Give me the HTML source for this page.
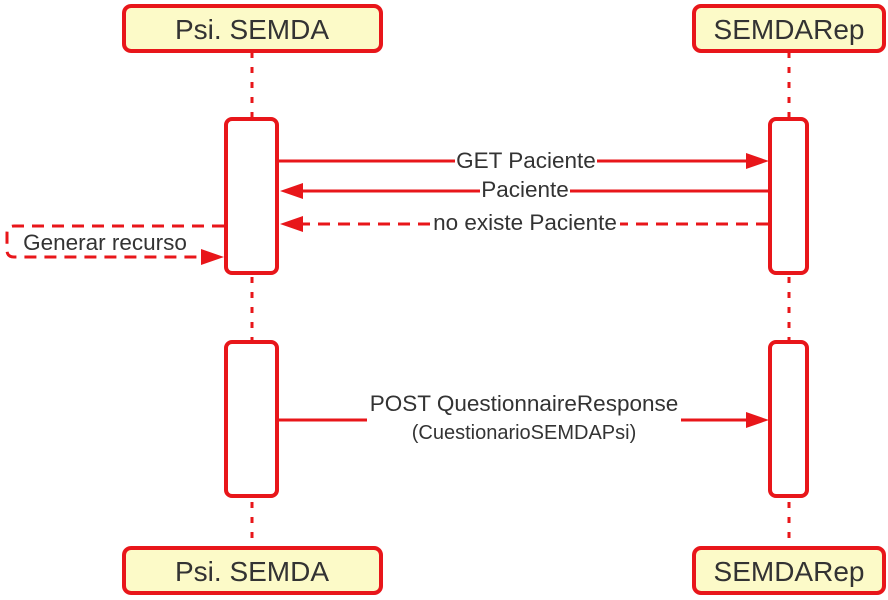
<!DOCTYPE html>
<html><head><meta charset="utf-8"><style>html,body{margin:0;padding:0;background:#fff}svg{display:block}</style></head><body>
<svg width="888" height="600" viewBox="0 0 888 600" xmlns="http://www.w3.org/2000/svg" font-family="Liberation Sans, sans-serif">
<g stroke="#e8161a" stroke-width="3" stroke-dasharray="6,9" fill="none">
<line x1="252" y1="52" x2="252" y2="548"/>
<line x1="789" y1="52" x2="789" y2="548"/>
</g>
<g fill="#fcfac8" stroke="#e8161a" stroke-width="4">
<rect x="124" y="6" width="257" height="45" rx="7"/>
<rect x="694" y="6" width="190" height="45" rx="7"/>
<rect x="124" y="548" width="257" height="45" rx="7"/>
<rect x="694" y="548" width="190" height="45" rx="7"/>
</g>
<g fill="#333" font-size="28" text-anchor="middle">
<text x="252" y="39">Psi. SEMDA</text>
<text x="789" y="39">SEMDARep</text>
<text x="252" y="581">Psi. SEMDA</text>
<text x="789" y="581">SEMDARep</text>
</g>
<g fill="#fff" stroke="#e8161a" stroke-width="4">
<rect x="226" y="119" width="51" height="154" rx="6"/>
<rect x="770" y="119" width="37" height="154" rx="6"/>
<rect x="226" y="342" width="51" height="154" rx="6"/>
<rect x="770" y="342" width="37" height="154" rx="6"/>
</g>
<g stroke="#e8161a" stroke-width="3" fill="none">
<line x1="279" y1="161" x2="455" y2="161"/><line x1="597" y1="161" x2="750" y2="161"/>
<line x1="768" y1="191" x2="570" y2="191"/><line x1="480" y1="191" x2="298" y2="191"/>
<line x1="768" y1="224" x2="620" y2="224" stroke-dasharray="12,8"/>
<line x1="430" y1="224" x2="298" y2="224" stroke-dasharray="12,8"/>
<path d="M224 226 H14 Q7 226 7 233 V250 Q7 257 14 257 H204" stroke-dasharray="12,8"/>
<line x1="279" y1="420" x2="367" y2="420"/><line x1="681" y1="420" x2="750" y2="420"/>
</g>
<g fill="#e8161a">
<polygon points="769,161 746,153 746,169"/>
<polygon points="280,191 303,183 303,199"/>
<polygon points="280,224 303,216 303,232"/>
<polygon points="224,257 201,249 201,265"/>
<polygon points="769,420 746,412 746,428"/>
</g>
<g fill="#333" font-size="22.5" text-anchor="middle">
<text x="526" y="168">GET Paciente</text>
<text x="525" y="197">Paciente</text>
<text x="525" y="230">no existe Paciente</text>
<text x="105" y="250">Generar recurso</text>
<text x="524" y="411">POST QuestionnaireResponse</text>
<text x="524" y="439" font-size="20">(CuestionarioSEMDAPsi)</text>
</g>
</svg>
</body></html>
